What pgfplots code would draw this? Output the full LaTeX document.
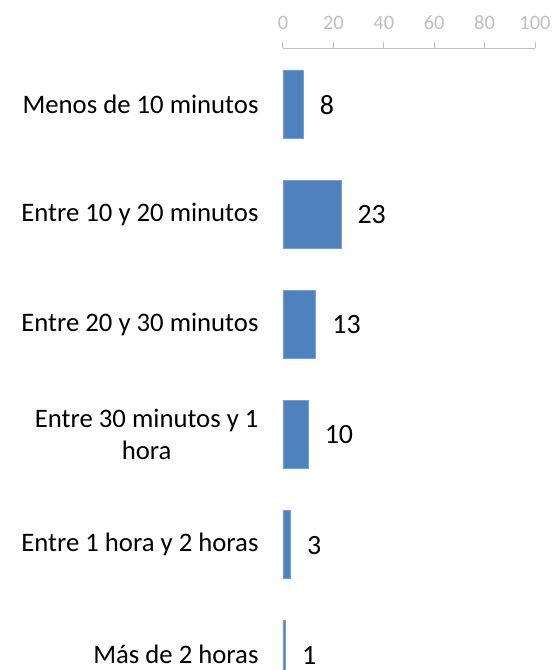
\documentclass[border=0pt]{standalone}
\usepackage{pgfplots}
\pgfplotsset{compat=1.18}
\usepackage{fontspec}
\setmainfont{Carlito}
\definecolor{barblue}{RGB}{79,129,189}
\definecolor{baredge}{RGB}{120,160,210}
\definecolor{axgray}{RGB}{191,191,191}
\begin{document}
\begin{tikzpicture}
\path[use as bounding box] (-283bp,0bp) rectangle (271bp,670bp);
\begin{axis}[
  at={(0,0)}, anchor=south west,
  scale only axis,
  width=252bp, height=622bp,
  xbar, bar width=68bp,
  xmin=0, xmax=100,
  ymin=-0.509, ymax=5.145,
  y dir=reverse,
  axis x line*=top,
  axis y line*=left,
  y axis line style={draw=none},
  x axis line style={axgray, line width=1pt},
  xtick={0,20,40,60,80,100},
  tick align=outside,
  major tick length=6bp,
  xtick style={axgray, line width=1pt},
  ytick style={draw=none},
  ytick={0,1,2,3,4,5},
  yticklabels={Menos de 10 minutos, Entre 10 y 20 minutos, Entre 20 y 30 minutos, {Entre 30 minutos y 1\\hora}, Entre 1 hora y 2 horas, Más de 2 horas},
  yticklabel style={font=\fontsize{26.8}{32}\selectfont, align=center, text=black, xshift=-15bp},
  xticklabel style={font=\fontsize{20.5}{24}\selectfont, text=axgray, yshift=9bp},
  /pgf/number format/assume math mode=true,
  nodes near coords,
  nodes near coords style={font=\fontsize{28}{33}\selectfont, text=black, anchor=west, xshift=13bp, yshift=-1bp},
]
\addplot[fill=barblue, draw=baredge, line width=0.6pt] coordinates {(8,0) (23,1) (13,2) (10,3) (3,4) (1,5)};
\end{axis}
\end{tikzpicture}
\end{document}
